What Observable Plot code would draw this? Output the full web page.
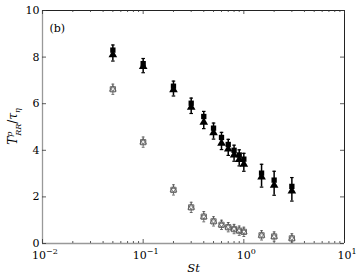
<!DOCTYPE html>
<html><head><meta charset="utf-8">
<script src="https://cdn.jsdelivr.net/npm/d3@7"></script>
<script src="https://cdn.jsdelivr.net/npm/@observablehq/plot@0.6"></script>
<style>body{margin:0;background:#fff}svg{display:block}svg text{font-family:"DejaVu Serif",serif !important}</style>
</head><body><div id="chart"></div>
<script>
const st = [0.05,0.1,0.2,0.3,0.4,0.5,0.6,0.7,0.8,0.9,1.0,1.5,2,3];
const squares = [8.3,7.72,6.75,6.02,5.45,4.95,4.55,4.25,4.0,3.8,3.62,3.02,2.72,2.45];
const triangles = [8.1,7.6,6.6,5.85,5.2,4.75,4.3,4.05,3.8,3.6,3.4,2.85,2.5,2.25];
const openVals = [6.62,4.35,2.3,1.55,1.15,0.95,0.8,0.7,0.62,0.55,0.5,0.35,0.3,0.22];
const errFilled = [0.12,0.12,0.12,0.12,0.12,0.12,0.12,0.12,0.12,0.12,0.15,0.28,0.28,0.28];
const errOpen = [0.1,0.1,0.1,0.1,0.1,0.08,0.08,0.08,0.08,0.08,0.08,0.08,0.08,0.08];
const yTicks = [0,2,4,6,8,10];
const xMajor = [0.01,0.1,1,10];
const xExponents = ["\u22122","\u22121","0","1"];

const W = 360, H = 279, mt = 10, mb = 36, ml = 42, mr = 16;
const ph = H - mt - mb, pw = W - ml - mr;
const xMinor = [];
for (let e = -2; e < 1; e++) for (let k = 2; k <= 9; k++) xMinor.push(k * Math.pow(10, e));

const filled = st.map((s,i)=>({s, sq: squares[i], tr: triangles[i], e: errFilled[i]}));
const opens = st.map((s,i)=>({s, v: openVals[i], e: errOpen[i]}));

const cap = {draw(ctx, size){ const w = Math.sqrt(size)/2; ctx.moveTo(-w,0); ctx.lineTo(w,0); }};
const triDown = {draw(ctx, size){ const r = Math.sqrt(size)*0.55; ctx.moveTo(-r, -r*0.6); ctx.lineTo(r, -r*0.6); ctx.lineTo(0, r*0.9); ctx.closePath(); }};
const ff = "DejaVu Serif, serif";

const chart = Plot.plot({
  width: W, height: H,
  marginTop: mt, marginBottom: mb, marginLeft: ml, marginRight: mr,
  style: {fontFamily: ff, fontSize: "11px", color: "#000", background: "#fff"},
  x: {type: "log", domain: [0.01, 10], axis: null},
  y: {domain: [0, 10], axis: null},
  marks: [
    Plot.ruleX(filled, {x: "s", y1: d=>d.tr - d.e - 0.15, y2: d=>d.sq + d.e + 0.1, stroke: "#000", strokeWidth: 1.5}),
    Plot.dot(filled, {x: "s", y: d=>d.sq + d.e + 0.1, symbol: cap, r: 2.0, stroke: "#000", strokeWidth: 1.2}),
    Plot.dot(filled, {x: "s", y: d=>d.tr - d.e - 0.15, symbol: cap, r: 2.0, stroke: "#000", strokeWidth: 1.2}),
    Plot.ruleX(opens, {x: "s", y1: d=>d.v - d.e - 0.12, y2: d=>d.v + d.e + 0.12, stroke: "#444", strokeWidth: 0.8}),
    Plot.dot(opens, {x: "s", y: d=>d.v + d.e + 0.12, symbol: cap, r: 1.6, stroke: "#444", strokeWidth: 0.8}),
    Plot.dot(opens, {x: "s", y: d=>d.v - d.e - 0.12, symbol: cap, r: 1.6, stroke: "#444", strokeWidth: 0.8}),
    Plot.dot(filled, {x: "s", y: "tr", symbol: "triangle", r: 3.2, fill: "#000", stroke: "none"}),
    Plot.dot(filled, {x: "s", y: "sq", symbol: "square", r: 3.0, fill: "#000", stroke: "none"}),
    Plot.dot(opens, {x: "s", y: "v", symbol: "square", r: 3.0, fill: "#fff", stroke: "#555", strokeWidth: 0.8}),
    Plot.dot(opens, {x: "s", y: "v", symbol: "triangle", r: 2.5, fill: "none", stroke: "#555", strokeWidth: 0.7}),
    Plot.dot(opens, {x: "s", y: "v", symbol: triDown, r: 2.5, fill: "none", stroke: "#555", strokeWidth: 0.7}),
    Plot.ruleY([0], {stroke: "#999", strokeWidth: 1.3}),
    Plot.ruleX([0.01], {stroke: "#999", strokeWidth: 1.3}),
    Plot.ruleY([10], {stroke: "#222", strokeWidth: 1}),
    Plot.ruleX([10], {stroke: "#222", strokeWidth: 1}),
    Plot.tickX(xMajor, {x: d=>d, insetTop: ph - 4, stroke: "#333", strokeWidth: 0.8}),
    Plot.tickX(xMajor, {x: d=>d, insetBottom: ph - 4, stroke: "#333", strokeWidth: 0.8}),
    Plot.tickX(xMinor, {x: d=>d, insetTop: ph - 2, stroke: "#333", strokeWidth: 0.8}),
    Plot.tickX(xMinor, {x: d=>d, insetBottom: ph - 2, stroke: "#333", strokeWidth: 0.8}),
    Plot.tickY(yTicks, {y: d=>d, insetRight: pw - 4, stroke: "#333", strokeWidth: 0.8}),
    Plot.tickY(yTicks, {y: d=>d, insetLeft: pw - 4, stroke: "#333", strokeWidth: 0.8}),
    Plot.text(yTicks, {y: d=>d, text: d=>String(d), frameAnchor: "left", textAnchor: "end", dx: -3, fontSize: 11, fontFamily: ff, fill: "#000"}),
    Plot.text(["(b)"], {frameAnchor: "top-left", dx: 7, dy: 14, fontSize: 11, fontFamily: ff, fill: "#000"}),
    Plot.text(["St"], {frameAnchor: "bottom", dy: 28, fontSize: 11.5, fontStyle: "italic", fontFamily: ff, fill: "#000"})
  ]
});

const svg = d3.select(chart);
const sx = chart.scale("x");
xMajor.forEach((v, i) => {
  const t = svg.append("text")
    .attr("x", sx.apply(v) + 3)
    .attr("y", H - mb + 16)
    .attr("text-anchor", "middle")
    .attr("font-family", ff)
    .attr("font-size", 11)
    .attr("fill", "#000");
  t.append("tspan").text("10");
  t.append("tspan").attr("font-size", 8).attr("dy", -5).text(xExponents[i]);
});
const lab = svg.append("text")
  .attr("transform", `translate(17,${mt + ph/2}) rotate(-90)`)
  .attr("text-anchor", "middle")
  .attr("font-family", ff)
  .attr("font-size", 12)
  .attr("fill", "#000");
lab.append("tspan").attr("font-style", "italic").text("T");
lab.append("tspan").attr("font-size", 8).attr("font-style", "italic").attr("dy", -5).text("p");
lab.append("tspan").attr("font-size", 8).attr("font-style", "italic").attr("dx", -4).attr("dy", 9).text("RR");
lab.append("tspan").attr("dy", -4).text("/");
lab.append("tspan").attr("font-style", "italic").text("τ");
lab.append("tspan").attr("font-size", 8).attr("font-style", "italic").attr("dy", 3).text("η");
document.getElementById("chart").appendChild(chart);
</script></body></html>
